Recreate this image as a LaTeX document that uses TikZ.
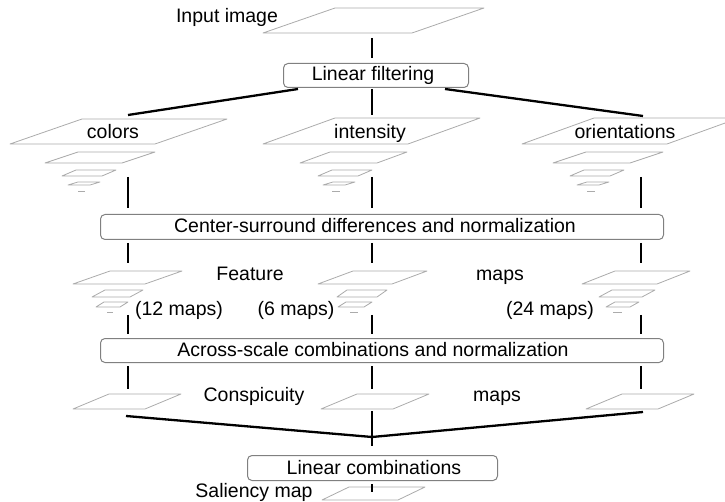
\documentclass[tikz,border=0pt]{standalone}
\usepackage{fontspec}
\setmainfont{Liberation Sans}
\begin{document}
\begin{tikzpicture}[x=1pt,y=-1pt,
  mapline/.style={draw=black!33, line width=0.8pt, line join=round},
  stage/.style={draw=black!50, line width=1pt, rounded corners=4.5pt, inner sep=0pt,
    anchor=north west},
  link/.style={line width=2.3pt, black},
  lbl/.style={inner sep=0pt, anchor=base, font=\fontsize{19.5}{22}\selectfont},
]
\useasboundingbox (0,0) rectangle (725,502);
% a flat map: bottom-left x, bottom y, width, skew, height
\newcommand\slab[5]{\draw[mapline] (#1,#2) -- ++(#3,0) -- ++(#4,-#5) -- ++(-#3,0) -- cycle;}
\newcommand\tick[3]{\draw[mapline] (#1,#2) -- ++(#3,0);}

% input
\slab{263}{33}{149}{72}{25}
\node[lbl] (inlbl) at (227,23) {Input image};
\coordinate (in) at (372,38);

% linear filtering
\node[stage, minimum width=185pt, minimum height=24pt] (filt) at (283,63) {};
\node[lbl] (filtlbl) at (373,81) {Linear filtering};
\coordinate (f1) at (298,89);
\coordinate (f2) at (372,89);
\coordinate (f3) at (445,89);

% channel pyramids
\slab{10}{144}{145}{72}{25}
\slab{45}{163}{77}{33}{11}
\slab{62}{176}{40}{14}{6}
\slab{68}{185}{22}{10}{3}
\tick{78}{191}{7}
\node[lbl] (col) at (113,139) {colors};
\coordinate (c1) at (128,115);

\slab{263}{144}{145}{72}{26}
\slab{300}{163}{77}{30}{11}
\slab{318}{176}{40}{14}{6}
\slab{323}{185}{22}{10}{3}
\tick{332}{191}{8}
\node[lbl] (int) at (370,139) {intensity};
\coordinate (i1) at (372,115);

\slab{522}{144}{145}{72}{26}
\slab{553}{163}{77}{33}{11}
\slab{570}{176}{40}{14}{6}
\slab{577}{185}{22}{10}{3}
\tick{587}{191}{8}
\node[lbl] (ori) at (625,139) {orientations};
\coordinate (o1) at (643,116);

\coordinate (c2) at (128,177);
\coordinate (i2) at (372,177);
\coordinate (o2) at (641,177);

% center-surround
\node[stage, minimum width=563pt, minimum height=25pt] (cs) at (100,214) {};
\node[lbl] (cslbl) at (375,233) {Center-surround differences and normalization};
\coordinate (c3) at (128,243);
\coordinate (i3) at (372,243);
\coordinate (o3) at (641,243);
\coordinate (c4) at (128,263);
\coordinate (i4) at (372,263);
\coordinate (o4) at (641,263);

% feature maps
\slab{73}{284}{72}{37}{13}
\slab{92}{297}{38}{13}{7}
\slab{96}{307}{24}{8}{5}
\tick{107}{312}{6}
\slab{318}{284}{74}{35}{13}
\slab{337}{297}{40}{10}{7}
\slab{338}{307}{26}{8}{5}
\tick{350}{312}{8}
\slab{582}{284}{75}{33}{13}
\slab{599}{297}{43}{13}{7}
\slab{606}{307}{24}{9}{5}
\tick{613}{312}{9}
\node[lbl] (feat) at (250,281) {Feature};
\node[lbl] (fmaps) at (500,281) {maps};
\node[lbl] (n12) at (179,316) {(12 maps)};
\node[lbl] (n6) at (296,316) {(6 maps)};
\node[lbl] (n24) at (550,316) {(24 maps)};
\coordinate (c5) at (128,315);
\coordinate (i5) at (372,315);
\coordinate (o5) at (641,315);

% across-scale
\node[stage, minimum width=563pt, minimum height=24pt] (ac) at (100,338) {};
\node[lbl] (aclbl) at (373,356) {Across-scale combinations and normalization};
\coordinate (c6) at (128,366);
\coordinate (i6) at (372,366);
\coordinate (o6) at (641,366);
\coordinate (c7) at (128,389);
\coordinate (i7) at (372,389);
\coordinate (o7) at (641,389);

% conspicuity maps
\slab{73}{409}{72}{36}{15}
\slab{321}{409}{72}{36}{15}
\slab{586}{409}{72}{36}{15}
\node[lbl] (consp) at (254,401) {Conspicuity};
\node[lbl] (cmaps) at (497,401) {maps};
\coordinate (c8) at (126,416);
\coordinate (i8) at (372,411);
\coordinate (o8) at (643,412);
\coordinate (j) at (372,437);
\coordinate (i9) at (372,446);

% linear combinations
\node[stage, minimum width=250pt, minimum height=25pt] (lc) at (247,455) {};
\node[lbl] (lclbl) at (374,474) {Linear combinations};
\coordinate (l1) at (372,484);
\coordinate (l2) at (372,492);

% saliency map
\slab{322}{500}{76}{27}{13}
\node[lbl] (sal) at (254,497) {Saliency map};

% connectors
\draw[link] (in) -- ([yshift=5pt]in |- filt.north);
\draw[link] (f1) -- (c1);
\draw[link] (f2) -- (i1);
\draw[link] (f3) -- (o1);
\draw[link] (c2) -- ([yshift=6pt]c2 |- cs.north);
\draw[link] (i2) -- ([yshift=6pt]i2 |- cs.north);
\draw[link] (o2) -- ([yshift=6pt]o2 |- cs.north);
\draw[link] (c3) -- (c4);
\draw[link] (i3) -- (i4);
\draw[link] (o3) -- (o4);
\draw[link] (c5) -- ([yshift=4pt]c5 |- ac.north);
\draw[link] (i5) -- ([yshift=4pt]i5 |- ac.north);
\draw[link] (o5) -- ([yshift=4pt]o5 |- ac.north);
\draw[link] (c6) -- (c7);
\draw[link] (i6) -- (i7);
\draw[link] (o6) -- (o7);
\draw[link] (c8) -- (j) -- (o8);
\draw[link] (i8) -- (i9);
\draw[link] (l1) -- (l2);
\end{tikzpicture}
\end{document}
